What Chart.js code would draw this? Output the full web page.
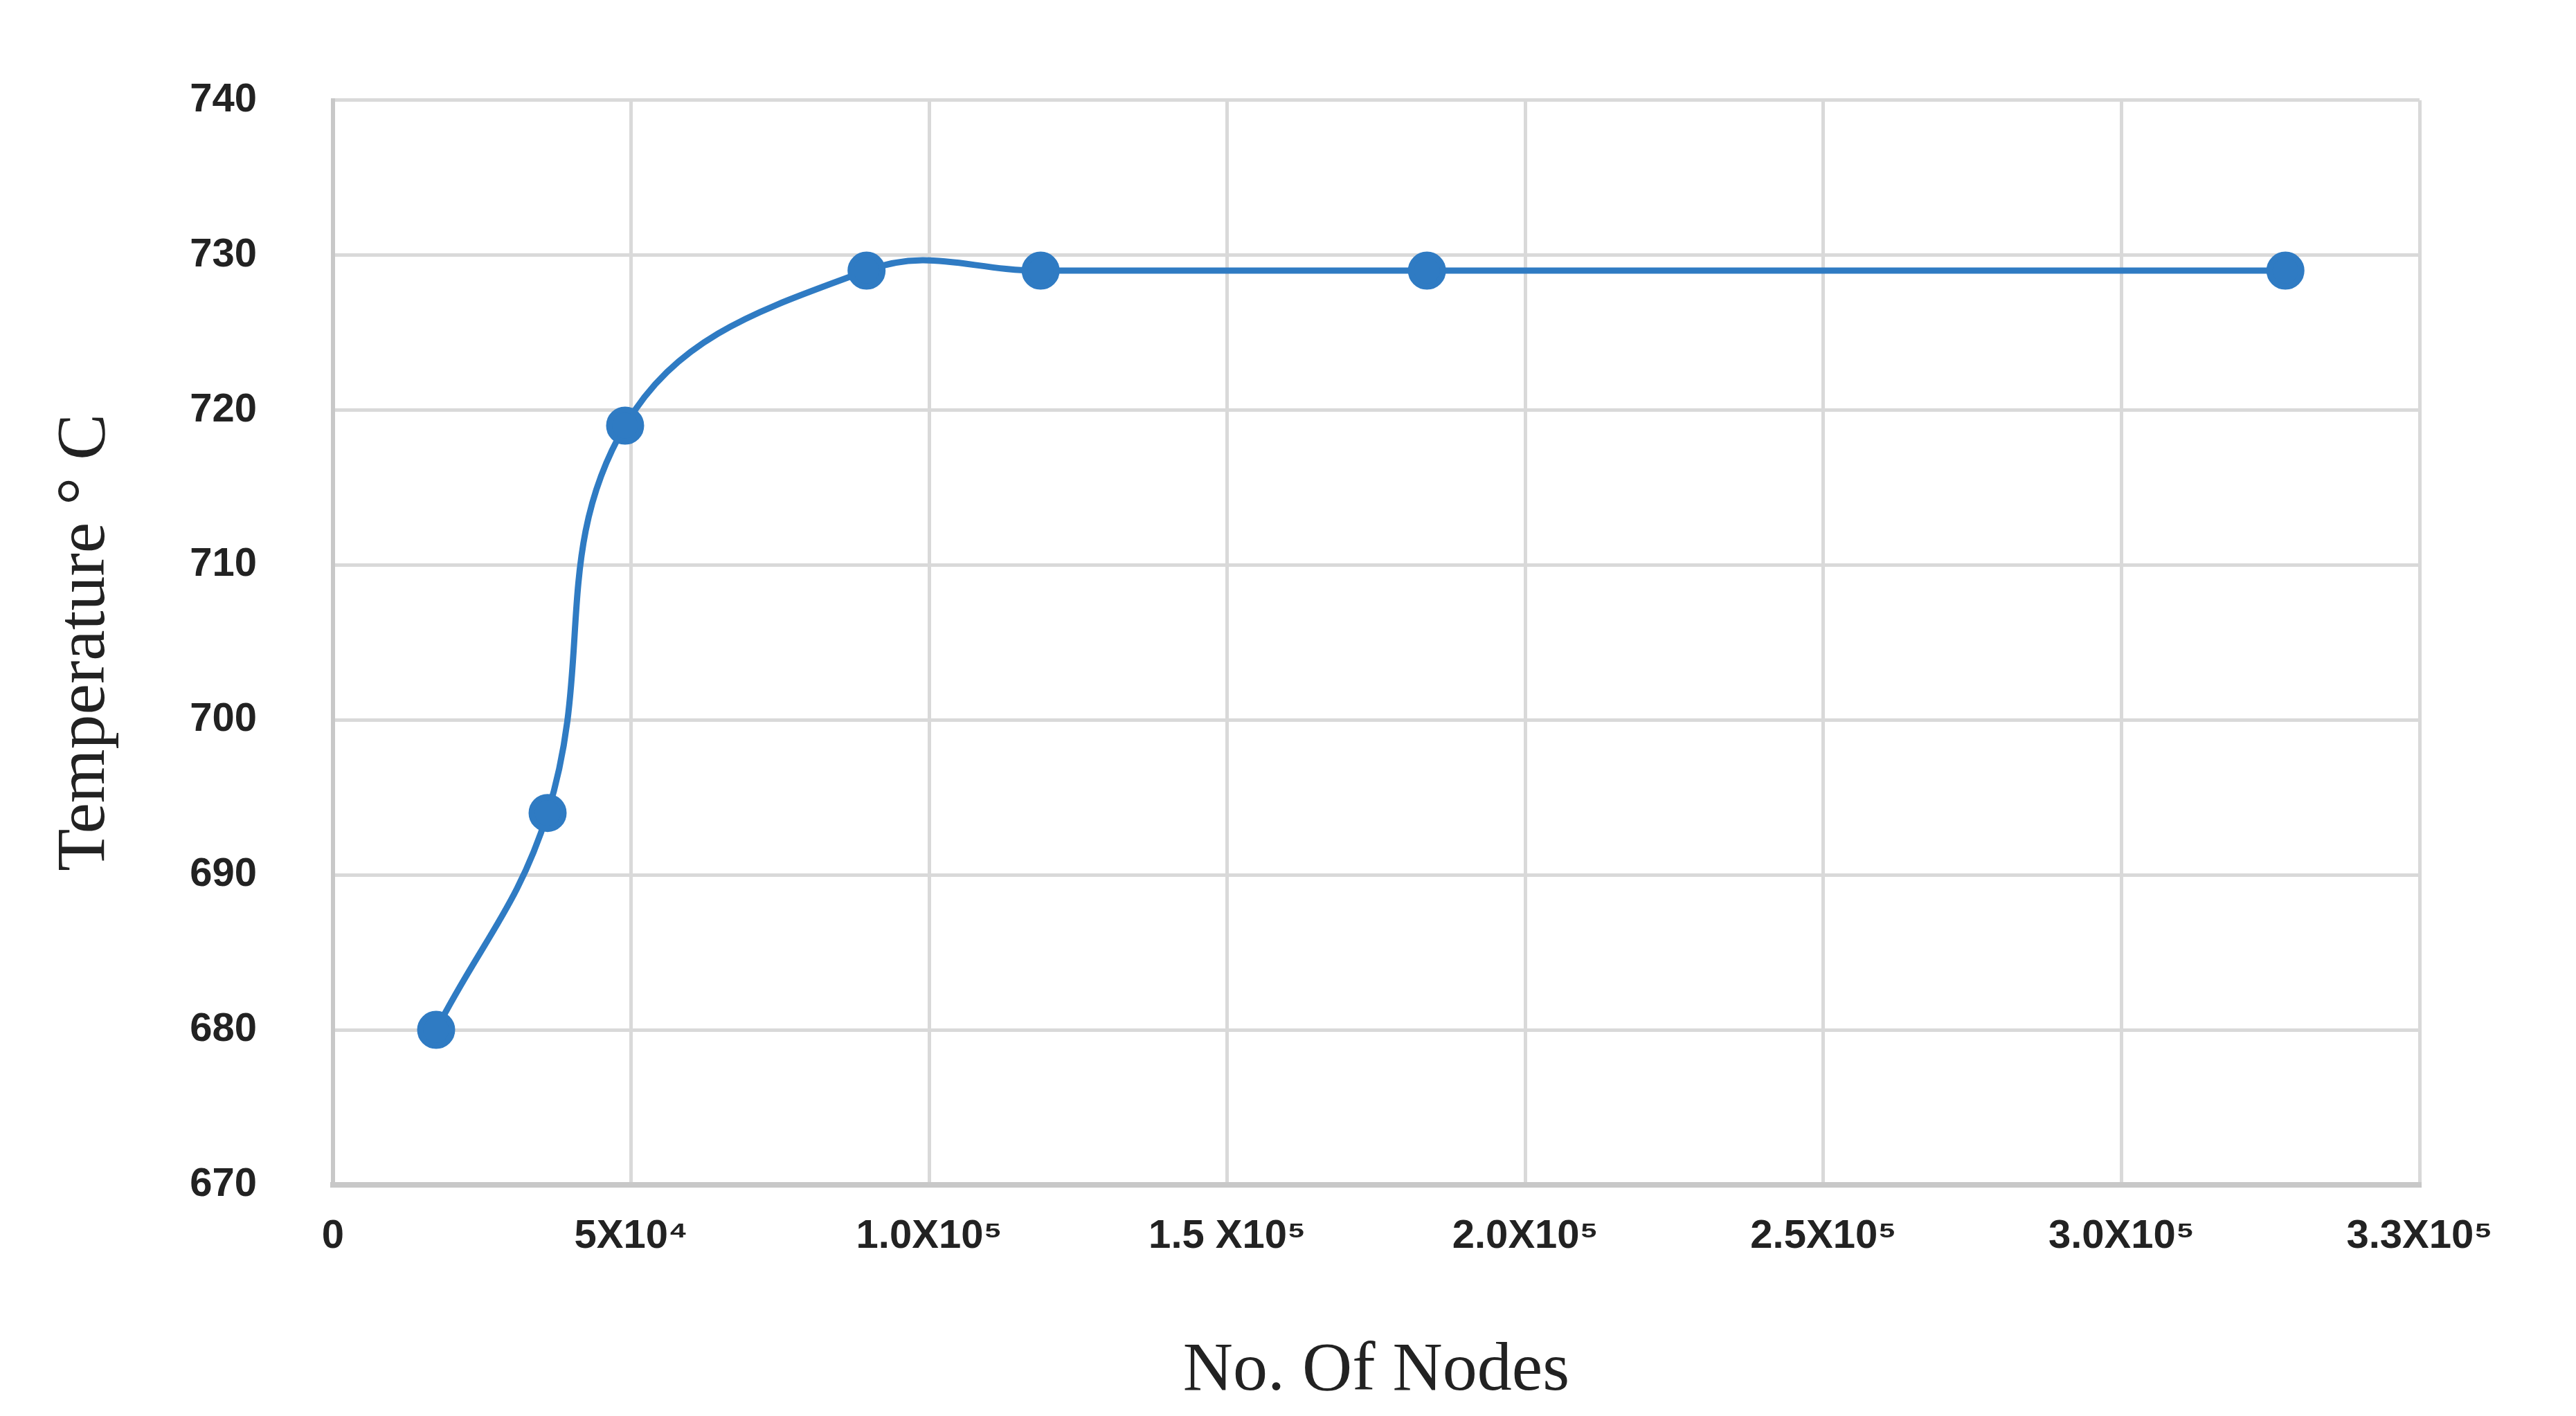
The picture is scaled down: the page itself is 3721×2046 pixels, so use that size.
<!DOCTYPE html>
<html><head><meta charset="utf-8">
<script src="https://cdn.jsdelivr.net/npm/chart.js@4"></script>
<style>html,body{margin:0;padding:0;background:#fff;}canvas{display:block;}</style>
</head><body>
<canvas id="c" width="3721" height="2046"></canvas>
<script>
const nodes = [17300, 36000, 49000, 89500, 118700, 183500, 327500];
const temps = [680, 694, 719, 729, 729, 729, 729];
const xTickLabels = ['0','5X10⁴','1.0X10⁵','1.5 X10⁵','2.0X10⁵','2.5X10⁵','3.0X10⁵','3.3X10⁵'];
const yTicks = [670,680,690,700,710,720,730,740];

new Chart(document.getElementById('c'), {
  type: 'line',
  data: { datasets: [{
    data: nodes.map((x,i)=>({x, y: temps[i]})),
    borderColor: '#2f7bc3', backgroundColor: '#2f7bc3',
    borderWidth: 9, pointRadius: 23, pointHoverRadius: 23,
    tension: 0.4, cubicInterpolationMode: 'default'
  }]},
  options: {
    responsive: false, animation: false,
    layout: { padding: { top: 87, right: 226, left: 60, bottom: 0 } },
    plugins: { legend: { display: false }, tooltip: { enabled: false } },
    scales: {
      x: {
        type: 'linear', min: 0, max: 350000,
        ticks: { stepSize: 50000, autoSkip: false, maxRotation: 0,
          font: { family: 'Liberation Sans', size: 58, weight: 'bold' }, color: '#222', padding: 40,
          callback: (v, i) => xTickLabels[i] },
        grid: { color: '#d9d9d9', lineWidth: 5, drawTicks: false },
        border: { color: '#c8c8c8', width: 8 },
        title: { display: true, text: 'No. Of Nodes', color: '#222',
          font: { family: 'Liberation Serif', size: 100 }, padding: { top: 30 } },
        afterFit: s => { s.height = 334; }
      },
      y: {
        min: 670, max: 740,
        ticks: { stepSize: 10, font: { family: 'Liberation Sans', size: 58, weight: 'bold' }, color: '#222', padding: 110 },
        grid: { color: '#d9d9d9', lineWidth: 5, drawTicks: false },
        border: { color: '#c8c8c8', width: 6 },
        title: { display: true, text: 'Temperature ° C', color: '#222',
          font: { family: 'Liberation Serif', size: 100 }, padding: { bottom: 10 } },
        afterFit: s => { s.width = 421; }
      }
    }
  }
});
</script>
</body></html>
